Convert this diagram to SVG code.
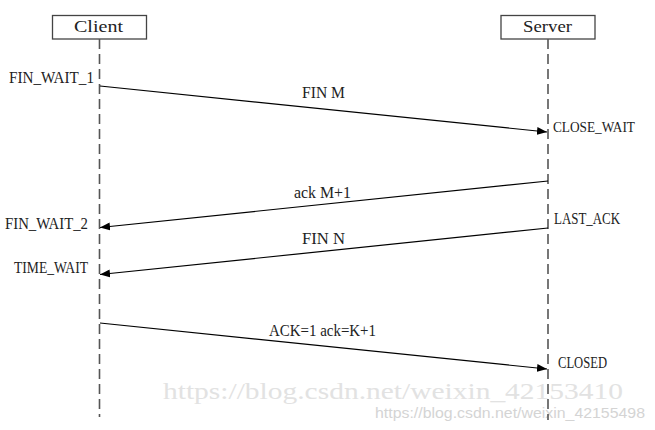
<svg xmlns="http://www.w3.org/2000/svg" width="655" height="430" viewBox="0 0 655 430">
<defs>
<style>
.box{fill:#fff;stroke:#444;stroke-width:1.3}
.life{stroke:#555;stroke-width:1.6;stroke-dasharray:10 5;fill:none}
.msg{stroke:#000;stroke-width:1.2;fill:none;marker-end:url(#ah)}
.t{font-family:"Liberation Serif",serif;font-size:17px;fill:#222}
.wm1{font-family:"Liberation Serif",serif;font-size:23px;fill:#e2e2e2}
.wm2{font-family:"Liberation Sans",sans-serif;font-size:14px;fill:#d4d4d4}
</style>
<marker id="ah" viewBox="0 0 10 8" refX="10" refY="4" markerWidth="10" markerHeight="8" markerUnits="userSpaceOnUse" orient="auto">
<path d="M0,0 L10,4 L0,8 Z" fill="#000"/>
</marker>
</defs>
<rect width="655" height="430" fill="#fff"/>
<text class="wm1" x="163" y="399" textLength="460" lengthAdjust="spacingAndGlyphs">https://blog.csdn.net/weixin_42153410</text>
<text class="wm2" x="375" y="418" textLength="270" lengthAdjust="spacingAndGlyphs">https://blog.csdn.net/weixin_42155498</text>
<g id="client">
<rect class="box" x="52.5" y="15.5" width="94" height="23.5"/>
<text class="t" x="74" y="32" textLength="49" lengthAdjust="spacingAndGlyphs">Client</text>
<line class="life" x1="99.5" y1="39" x2="99.5" y2="417"/>
</g>
<g id="server">
<rect class="box" x="501" y="15.5" width="94" height="23.5"/>
<text class="t" x="523" y="32" textLength="49" lengthAdjust="spacingAndGlyphs">Server</text>
<line class="life" x1="548" y1="39" x2="548" y2="420"/>
</g>
<g id="states">
<text class="t" x="9" y="82.5" textLength="85" lengthAdjust="spacingAndGlyphs">FIN_WAIT_1</text>
<text class="t" x="553" y="131.5" style="font-size:15.5px" textLength="82" lengthAdjust="spacingAndGlyphs">CLOSE_WAIT</text>
<text class="t" x="554" y="223.5" textLength="66" lengthAdjust="spacingAndGlyphs">LAST_ACK</text>
<text class="t" x="5" y="228.5" textLength="83" lengthAdjust="spacingAndGlyphs">FIN_WAIT_2</text>
<text class="t" x="14" y="272.5" textLength="74" lengthAdjust="spacingAndGlyphs">TIME_WAIT</text>
<text class="t" x="558" y="367.5" textLength="49" lengthAdjust="spacingAndGlyphs">CLOSED</text>
</g>
<g id="connectors">
<line class="msg" x1="100" y1="86" x2="547" y2="132"/>
<text class="t" x="302" y="97.5" textLength="43" lengthAdjust="spacingAndGlyphs">FIN M</text>
<line class="msg" x1="548" y1="181" x2="100" y2="227.5"/>
<text class="t" x="294" y="197.5" textLength="57" lengthAdjust="spacingAndGlyphs">ack M+1</text>
<line class="msg" x1="548" y1="228" x2="100" y2="274.5"/>
<text class="t" x="302" y="243.5" textLength="43" lengthAdjust="spacingAndGlyphs">FIN N</text>
<line class="msg" x1="100" y1="323" x2="547" y2="369"/>
<text class="t" x="269" y="335.5" textLength="107" lengthAdjust="spacingAndGlyphs">ACK=1 ack=K+1</text>
</g>
</svg>
